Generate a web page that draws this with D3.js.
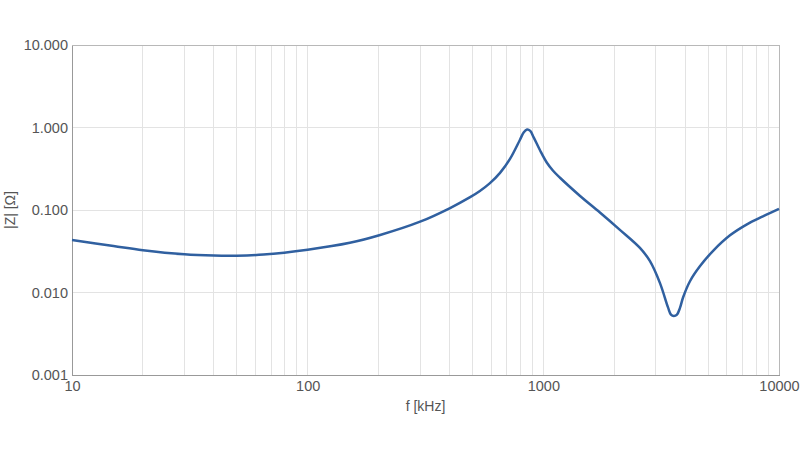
<!DOCTYPE html>
<html>
<head>
<meta charset="utf-8">
<script src="https://cdn.jsdelivr.net/npm/d3@7"></script>
<style>
  html, body { margin: 0; padding: 0; background: #fff; }
  svg { display: block; font-family: "Liberation Sans", Arial, sans-serif; }
</style>
</head>
<body>
<svg id="chart" width="800" height="450"></svg>
<script>
// Frequency (kHz)
const freq = [10, 15, 20, 30, 40, 50, 65, 100, 151, 203, 300, 402, 489, 538, 592, 655, 722, 796, 825, 853, 880, 910, 968, 1034, 1100, 1177, 1432, 1738, 2113, 2570, 2835, 3126, 3381, 3480, 3580, 3690, 3800, 3916, 4190, 4624, 5253, 6196, 7310, 8546, 10000];
// Impedance |Z| (Ohm)
const impedance = [0.0433, 0.0366, 0.0325, 0.0290, 0.0280, 0.0279, 0.0288, 0.0330, 0.0400, 0.0498, 0.0722, 0.1057, 0.143, 0.170, 0.210, 0.282, 0.416, 0.711, 0.87, 0.944, 0.91, 0.76, 0.530, 0.377, 0.299, 0.246, 0.148, 0.0933, 0.0575, 0.0347, 0.0240, 0.0130, 0.0066, 0.0054, 0.0052, 0.0054, 0.0065, 0.0087, 0.0137, 0.0209, 0.0320, 0.0493, 0.0670, 0.0835, 0.103];
const xTicks = [10, 100, 1000, 10000];
const yTicks = [0.001, 0.01, 0.1, 1, 10];
const xLabel = "f [kHz]";
const yLabel = "|Z| [Ω]";

const svg = d3.select("#chart");
const m = { left: 72, right: 21, top: 45, bottom: 75 };
const W = 800, H = 450;
const x = d3.scaleLog().domain([10, 10000]).range([m.left, W - m.right]);
const y = d3.scaleLog().domain([0.001, 10]).range([H - m.bottom, m.top]);

// minor x grid values
const xGrid = [];
for (let d = 10; d < 10000; d *= 10) for (let k = 1; k <= 10; k++) xGrid.push(d * k);
const g = svg.append("g");
g.selectAll("line.xg").data(xGrid).join("line")
  .attr("x1", d => x(d)).attr("x2", d => x(d))
  .attr("y1", m.top).attr("y2", H - m.bottom)
  .attr("stroke", "#e3e3e3").attr("stroke-width", 1).attr("shape-rendering", "crispEdges");
g.selectAll("line.yg").data(yTicks).join("line")
  .attr("x1", m.left).attr("x2", W - m.right)
  .attr("y1", d => y(d)).attr("y2", d => y(d))
  .attr("stroke", "#e3e3e3").attr("stroke-width", 1).attr("shape-rendering", "crispEdges");

// frame
svg.append("rect").attr("x", m.left).attr("y", m.top)
  .attr("width", W - m.left - m.right).attr("height", H - m.top - m.bottom)
  .attr("fill", "none").attr("stroke", "#b8b8b8").attr("shape-rendering", "crispEdges");

// axes
const xAxis = d3.axisBottom(x).tickValues(xTicks).tickFormat(d3.format("d")).tickSize(0).tickPadding(6);
const yAxis = d3.axisLeft(y).tickValues(yTicks).tickFormat(d3.format(".3f")).tickSize(0).tickPadding(4);
const ax = svg.append("g").attr("transform", `translate(0,${H - m.bottom})`).call(xAxis);
const ay = svg.append("g").attr("transform", `translate(${m.left},0)`).call(yAxis);
[ax, ay].forEach(a => {
  a.select(".domain").attr("stroke", "#999").attr("shape-rendering", "crispEdges");
  a.selectAll("text").attr("fill", "#555").style("font-size", "14.5px");
});

// line
const line = d3.line().x((d, i) => x(freq[i])).y(d => y(d)).curve(d3.curveCatmullRom.alpha(0.5));
svg.append("path").datum(impedance).attr("d", line)
  .attr("fill", "none").attr("stroke", "#3060a0").attr("stroke-width", 2.5)
  .attr("stroke-linejoin", "round");

// titles
svg.append("text").attr("x", (m.left + W - m.right) / 2).attr("y", 411)
  .attr("text-anchor", "middle").attr("fill", "#555").style("font-size", "14px").text(xLabel);
svg.append("text").attr("transform", `translate(15,${(m.top + H - m.bottom) / 2}) rotate(-90)`)
  .attr("text-anchor", "middle").attr("fill", "#555").style("font-size", "14px").text(yLabel);
</script>
</body>
</html>
